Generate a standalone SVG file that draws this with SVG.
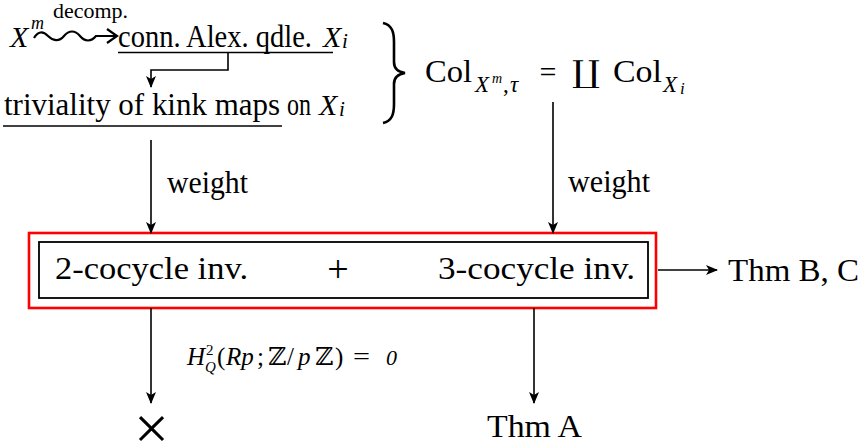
<svg xmlns="http://www.w3.org/2000/svg" width="863" height="443" viewBox="0 0 863 443" font-family="'Liberation Serif', 'Times New Roman', serif">
<style>
svg text, svg tspan{font-family:"Liberation Serif","Times New Roman",serif !important;fill:#000}
svg text.dj, svg tspan.dj{font-family:"DejaVu Serif",serif !important}
.t{font-size:32px}
.it{font-style:italic}
.ln{stroke:#000;stroke-width:1.6;fill:none}
.ul{stroke:#000;stroke-width:1.6}
</style>
<defs>
<marker id="ah" markerUnits="userSpaceOnUse" viewBox="0 0 12 10" markerWidth="12" markerHeight="10" refX="11" refY="5" orient="auto">
<path d="M0,0 L12,5 L0,10 L3,5 z" fill="#000"/>
</marker>
</defs>
<rect width="863" height="443" fill="#fff"/>

<g id="decomp">
<text class="it" x="10" y="47" font-size="30">X</text>
<text class="it" x="31" y="29" font-size="18">m</text>
<text x="53" y="18" font-size="21" textLength="75" lengthAdjust="spacingAndGlyphs">decomp.</text>
<path d="M34,38 C38,31 43,31 48,36 S59,42 64,36 S75,30 80,36 S91,42 96,36 L116,36 M107,29 L117,36 L107,43" fill="none" stroke="#000" stroke-width="2.2"/>
</g>

<g id="alex">
<text class="t" x="118" y="47" textLength="194" lengthAdjust="spacingAndGlyphs">conn. Alex. qdle.</text>
<text class="it" x="323" y="47" font-size="30">X</text>
<text class="it" x="342" y="48" font-size="21">i</text>
<line class="ul" x1="118" y1="52.5" x2="333" y2="52.5"/>
</g>

<g id="kink">
<text class="t" x="4" y="115" textLength="276" lengthAdjust="spacingAndGlyphs">triviality of kink maps</text>
<text class="t" x="287" y="115" textLength="24" lengthAdjust="spacingAndGlyphs">on</text>
<text class="it" x="319" y="115" font-size="30">X</text>
<text class="it" x="339" y="116" font-size="21">i</text>
<line class="ul" x1="3" y1="126" x2="282" y2="126"/>
</g>

<g id="brace">
<path d="M383,23 C392,25 394,32 394,42 L394,62 C394,68 398,72 405,73 C398,74 394,78 394,84 L394,104 C394,114 392,121 383,123" fill="none" stroke="#000" stroke-width="2.6"/>
</g>

<g id="col">
<text class="t" x="425" y="82" textLength="47" lengthAdjust="spacingAndGlyphs">Col</text>
<text class="it" x="475" y="92" font-size="23">X</text>
<text class="it" x="492" y="83" font-size="14">m</text>
<text x="503" y="92" font-size="23">,</text>
<text class="it" x="510" y="92" font-size="23">τ</text>
<text x="548" y="82" font-size="30" text-anchor="middle">=</text>
<text class="dj" x="572" y="82" font-size="30" textLength="28" lengthAdjust="spacingAndGlyphs">∐</text>
<text class="t" x="613" y="82" textLength="49" lengthAdjust="spacingAndGlyphs">Col</text>
<text class="it" x="663" y="92" font-size="23">X</text>
<text class="it" x="680" y="94" font-size="17">i</text>
</g>

<g id="box">
<rect x="29" y="233" width="627" height="75" fill="none" stroke="#f00" stroke-width="2.6"/>
<rect x="39" y="242" width="609" height="56" fill="none" stroke="#000" stroke-width="1.8"/>
<text class="t" x="55" y="279" textLength="193" lengthAdjust="spacingAndGlyphs">2-cocycle inv.</text>
<text x="338" y="282" font-size="38" text-anchor="middle">+</text>
<text class="t" x="438" y="279" textLength="197" lengthAdjust="spacingAndGlyphs">3-cocycle inv.</text>
</g>

<g id="thmbc">
<text class="t" x="728" y="281" textLength="131" lengthAdjust="spacingAndGlyphs">Thm B, C</text>
</g>

<g id="cross">
<text x="151.5" y="449" font-size="62" text-anchor="middle">×</text>
</g>

<g id="thma">
<text class="t" x="487" y="437" textLength="95" lengthAdjust="spacingAndGlyphs">Thm A</text>
</g>

<g id="connectors">
<polyline class="ln" points="228,53 228,70 151,70 151,87" marker-end="url(#ah)"/>
<line class="ln" x1="151" y1="140" x2="151" y2="233" marker-end="url(#ah)"/>
<line class="ln" x1="553" y1="102" x2="553" y2="233" marker-end="url(#ah)"/>
<line class="ln" x1="658" y1="270" x2="717" y2="270" marker-end="url(#ah)"/>
<line class="ln" x1="151" y1="308" x2="151" y2="403" marker-end="url(#ah)"/>
<line class="ln" x1="534" y1="308" x2="534" y2="403" marker-end="url(#ah)"/>
<text class="t" x="167" y="193" textLength="81" lengthAdjust="spacingAndGlyphs">weight</text>
<text class="t" x="568" y="192" textLength="82" lengthAdjust="spacingAndGlyphs">weight</text>
<text font-size="25" y="365">
<tspan x="187" class="it">H</tspan><tspan x="206" y="355" font-size="15">2</tspan><tspan x="205" y="372" font-size="15" class="it">Q</tspan><tspan x="217" y="365">(</tspan><tspan x="226" class="it">Rp</tspan><tspan x="257">;</tspan><tspan x="268" class="dj">ℤ</tspan><tspan x="287">/</tspan><tspan x="298" class="it">p</tspan><tspan x="315" class="dj">ℤ</tspan><tspan x="335">)</tspan><tspan x="353" textLength="17" lengthAdjust="spacingAndGlyphs">=</tspan><tspan x="386" class="it" font-size="22">0</tspan>
</text>
</g>
</svg>
